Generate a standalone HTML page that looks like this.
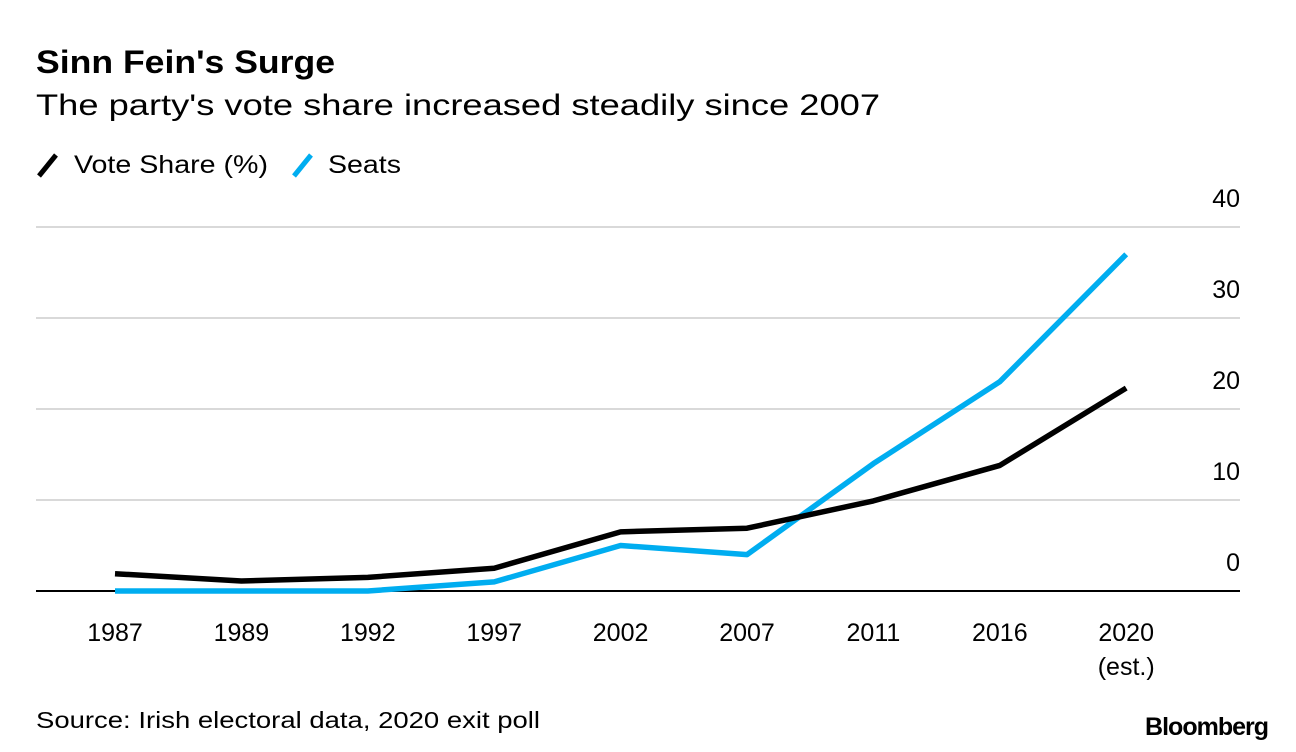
<!DOCTYPE html>
<html><head><meta charset="utf-8"><style>
body{margin:0;background:#fff;font-family:"Liberation Sans",sans-serif;}
svg{display:block}
</style></head><body>
<svg width="1296" height="752" id="c">
<text x="36" y="73" font-size="32" font-weight="bold" fill="#000" textLength="299" lengthAdjust="spacingAndGlyphs">Sinn Fein's Surge</text>
<text x="36" y="115" font-size="30" fill="#000" textLength="844" lengthAdjust="spacingAndGlyphs">The party's vote share increased steadily since 2007</text>
<g>
<line x1="39" y1="176" x2="56" y2="155" stroke="#000" stroke-width="5"/>
<text x="74" y="173" font-size="25" textLength="194" lengthAdjust="spacingAndGlyphs">Vote Share (%)</text>
<line x1="294" y1="176" x2="311" y2="155" stroke="#00adf0" stroke-width="5"/>
<text x="328" y="173" font-size="25" textLength="73" lengthAdjust="spacingAndGlyphs">Seats</text>
</g>
<g id="grid"></g><g id="xt"></g><g id="lines"></g>
<text x="36" y="728" font-size="23" textLength="504" lengthAdjust="spacingAndGlyphs">Source: Irish electoral data, 2020 exit poll</text>
<text x="1268" y="735" font-size="25" font-weight="bold" text-anchor="end" letter-spacing="-1">Bloomberg</text>
</svg>
<script>
const categories=["1987","1989","1992","1997","2002","2007","2011","2016","2020"];
const voteShare=[1.9,1.1,1.5,2.5,6.5,6.9,9.9,13.8,22.3];
const seats=[0,0,0,1,5,4,14,23,37];
const yTicks=[0,10,20,30,40];
const ns="http://www.w3.org/2000/svg";
const x=i=>115+i*126.4;
const y=v=>591-v*9.1;
function mk(t,a,p){const e=document.createElementNS(ns,t);for(const k in a)e.setAttribute(k,a[k]);p.appendChild(e);return e;}
const g=document.getElementById('grid');
yTicks.forEach(v=>{
 const l=mk('line',{x1:36,x2:1240,y1:y(v),y2:y(v),stroke:v===0?'#000':'#d9d9d9','stroke-width':2},g);
 
 
 const t=mk('text',{x:1240,y:y(v)-20,'font-size':25,'text-anchor':'end'},g);
 t.textContent=v;
 
 
});
const xt=document.getElementById('xt');
categories.forEach((c,i)=>{
 const t=mk('text',{x:x(i),y:641,'font-size':25,'text-anchor':'middle'},xt);
 t.textContent=c;
 
 
});
const e=mk('text',{x:x(8),y:675,'font-size':25,'text-anchor':'middle'},xt);
e.textContent='(est.)';


const L=document.getElementById('lines');
function line(vals,col,name){
 const p=mk('polyline',{points:vals.map((v,i)=>x(i)+','+y(v)).join(' '),fill:'none',stroke:col,'stroke-width':5.5,'stroke-linejoin':'round'},L);
 
 
}
line(seats,'#00adf0','seats-line');
line(voteShare,'#000','vote-share-line');
</script>
</body></html>
